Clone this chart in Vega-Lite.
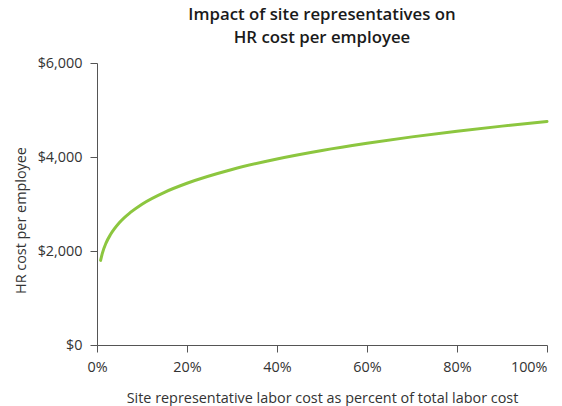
{
  "$schema": "https://vega.github.io/schema/vega-lite/v6.json",
  "width": 450,
  "height": 282,
  "autosize": {"type": "none"},
  "padding": {"left": 97, "top": 63, "right": 15, "bottom": 61},
  "background": "white",
  "config": {
    "view": {"stroke": null},
    "font": "Open Sans"
  },
  "title": {
    "text": ["Impact of site representatives on", "HR cost per employee"],
    "fontSize": 16.8,
    "fontWeight": 600,
    "color": "#1a1a1a",
    "anchor": "middle",
    "lineHeight": 23,
    "offset": 8
  },
  "data": {
    "values": [
      {"share": 0.008, "cost": 1800},
      {"share": 0.012, "cost": 1955},
      {"share": 0.02, "cost": 2169},
      {"share": 0.03, "cost": 2350},
      {"share": 0.05, "cost": 2606},
      {"share": 0.075, "cost": 2826},
      {"share": 0.1, "cost": 2997},
      {"share": 0.15, "cost": 3249},
      {"share": 0.2, "cost": 3441},
      {"share": 0.3, "cost": 3734},
      {"share": 0.4, "cost": 3958},
      {"share": 0.5, "cost": 4139},
      {"share": 0.6, "cost": 4292},
      {"share": 0.7, "cost": 4428},
      {"share": 0.8, "cost": 4548},
      {"share": 0.9, "cost": 4657},
      {"share": 1.0, "cost": 4757}
    ]
  },
  "mark": {"type": "line", "color": "#8cc63f", "strokeWidth": 3, "interpolate": "monotone", "strokeCap": "round"},
  "encoding": {
    "x": {
      "field": "share",
      "type": "quantitative",
      "scale": {"domain": [0, 1], "nice": false},
      "axis": {
        "values": [0, 0.2, 0.4, 0.6, 0.8, 1],
        "format": ".0%",
        "title": "Site representative labor cost as percent of total labor cost",
        "grid": false,
        "domainColor": "#555555",
        "tickColor": "#555555",
        "tickSize": 7,
        "labelPadding": 8,
        "labelFontSize": 14.4,
        "labelColor": "#333333",
        "labelAlign": {"condition": {"test": "datum.value == 1", "value": "right"}, "value": "center"},
        "titleFontSize": 14.4,
        "titleFontWeight": "normal",
        "titleColor": "#333333",
        "titlePadding": 18,
        "labelFlush": false
      }
    },
    "y": {
      "field": "cost",
      "type": "quantitative",
      "scale": {"domain": [0, 6000], "nice": false},
      "axis": {
        "values": [0, 2000, 4000, 6000],
        "format": "$,.0f",
        "title": "HR cost per employee",
        "grid": false,
        "domainColor": "#555555",
        "tickColor": "#555555",
        "tickSize": 7,
        "labelPadding": 8,
        "labelFontSize": 14.4,
        "labelColor": "#333333",
        "titleFontSize": 14.4,
        "titleFontWeight": "normal",
        "titleColor": "#333333",
        "titlePadding": 9,
        "titleY": 157,
        "labelFlush": false
      }
    }
  }
}
